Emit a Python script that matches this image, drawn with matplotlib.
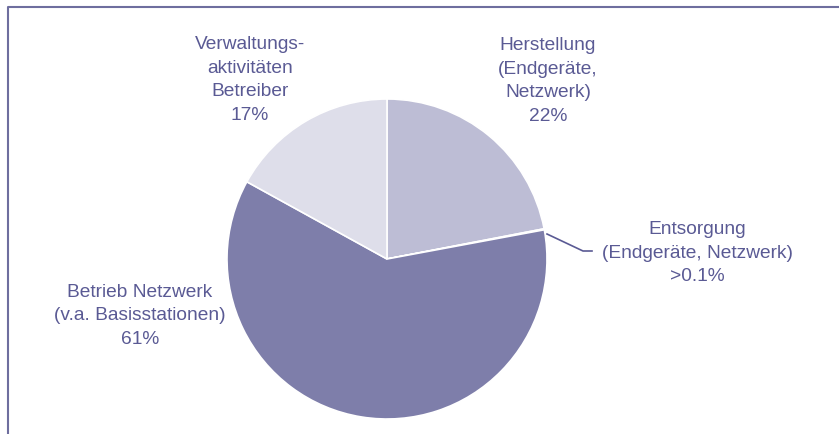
import matplotlib.pyplot as plt

# Shares of emissions (percent), clockwise from the top
categories = ["Herstellung\n(Endgeräte,\nNetzwerk)",
              "Entsorgung\n(Endgeräte, Netzwerk)",
              "Betrieb Netzwerk\n(v.a. Basisstationen)",
              "Verwaltungs-\naktivitäten\nBetreiber"]
shares = [22, 0.1, 61, 17]
share_labels = ["22%", ">0.1%", "61%", "17%"]
colors = ["#bdbdd5", "#7e7eaa", "#7e7eaa", "#dedeea"]

TEXT_COLOR = "#5a5a94"
FRAME_COLOR = "#6e6e9e"

plt.rcParams["font.family"] = ["Liberation Sans", "DejaVu Sans"]

fig = plt.figure(figsize=(8.39, 4.35), dpi=100)
ax = fig.add_axes([0, 0, 1, 1])

# Pie drawn in pixel-like coordinates (y up)
ax.pie(shares, colors=colors, startangle=90, counterclock=False,
       center=(387, 175), radius=160,
       wedgeprops=dict(edgecolor="white", linewidth=1.2))

ax.set_xlim(0, 839)
ax.set_ylim(0, 435)
ax.set_aspect("auto")
ax.axis("off")

# Labels placed around the pie
label_pos = [(548, 354), (697, 182), (140, 119), (250, 355)]
for cat, lab, (x, y) in zip(categories, share_labels, label_pos):
    ax.text(x, y, cat + "\n" + lab, ha="center", va="center",
            fontsize=13.8, color=TEXT_COLOR, linespacing=1.5)

# Leader line for the tiny slice
ax.plot([547, 583, 592], [200, 183, 183], color=TEXT_COLOR, lw=1.2)

# Outer frame (left and top edges visible)
ax.plot([7.5, 7.5, 839], [0, 427, 427], color=FRAME_COLOR, lw=1.5,
        solid_capstyle="butt")

fig.savefig("out.png", dpi=100)
